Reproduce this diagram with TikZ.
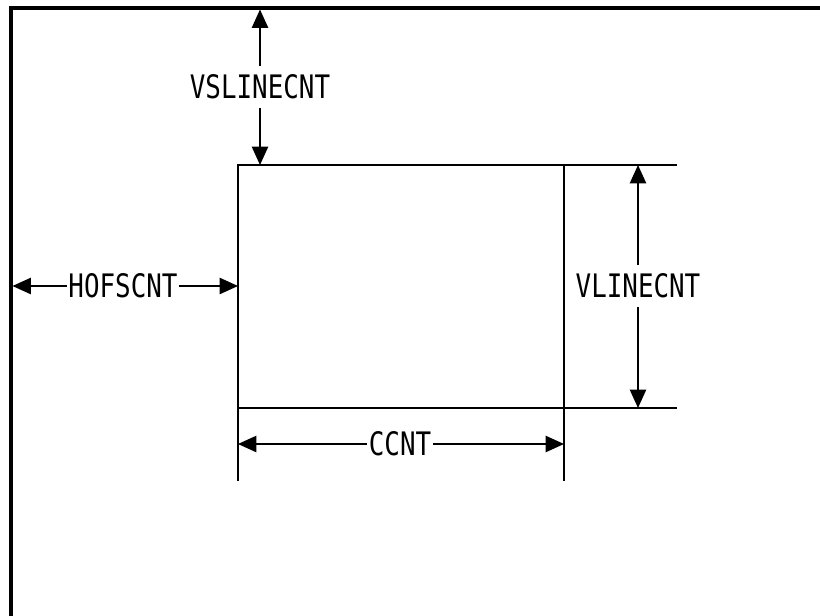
\documentclass[tikz,border=0pt]{standalone}
\usepackage{fontspec}
\newfontfamily\dimfont[FakeStretch=0.8]{DejaVu Sans Mono}
\usetikzlibrary{arrows.meta, positioning, calc}

\begin{document}
\begin{tikzpicture}[x=0.025cm, y=-0.025cm,
    frame/.style={line width=2.6pt},
    area/.style={line width=1.8pt},
    ext/.style={line width=1pt},
    dim/.style={line width=1.2pt, -{Triangle[length=13pt, width=11.5pt]}},
    dimlabel/.style={font=\dimfont\fontsize{23}{23}\selectfont, inner sep=1pt}]
    \useasboundingbox (0,0) rectangle (820,616);

    % Outer frame
    \draw[frame] (11,616) -- (11,8) -- (820,8);
    \coordinate (frameL) at (12.5,286);
    \coordinate (frameT) at (260,9.5);

    % Active area
    \coordinate (TL) at (238,165);
    \coordinate (BR) at (564,408);
    \draw[area] (TL) rectangle (BR);

    % Extension lines
    \draw[ext] (BR |- TL) -- (677,165);
    \draw[ext] (BR) -- (677,408);
    \draw[ext] (TL |- BR) -- (238,481);
    \draw[ext] (BR) -- (564,481);

    % Labels
    \node[dimlabel, inner ysep=6pt] (vsline) at (260,87) {VSLINECNT};
    \node[dimlabel] (hofs) at (123,286) {HOFSCNT};
    \node[dimlabel, inner ysep=6pt] (vline) at (638,286) {VLINECNT};
    \node[dimlabel] (ccnt) at (400,444) {CCNT};

    % Dimension arrows
    \draw[dim] (vsline.north) -- (frameT);
    \draw[dim] (vsline.south) -- (vsline.south |- TL);
    \draw[dim] (hofs.west) -- (frameL);
    \draw[dim] (hofs.east) -- (hofs.east -| TL);
    \draw[dim] (vline.north) -- (vline.north |- TL);
    \draw[dim] (vline.south) -- (vline.south |- BR);
    \draw[dim] (ccnt.west) -- (ccnt.west -| TL);
    \draw[dim] (ccnt.east) -- (ccnt.east -| BR);

\end{tikzpicture}
\end{document}
